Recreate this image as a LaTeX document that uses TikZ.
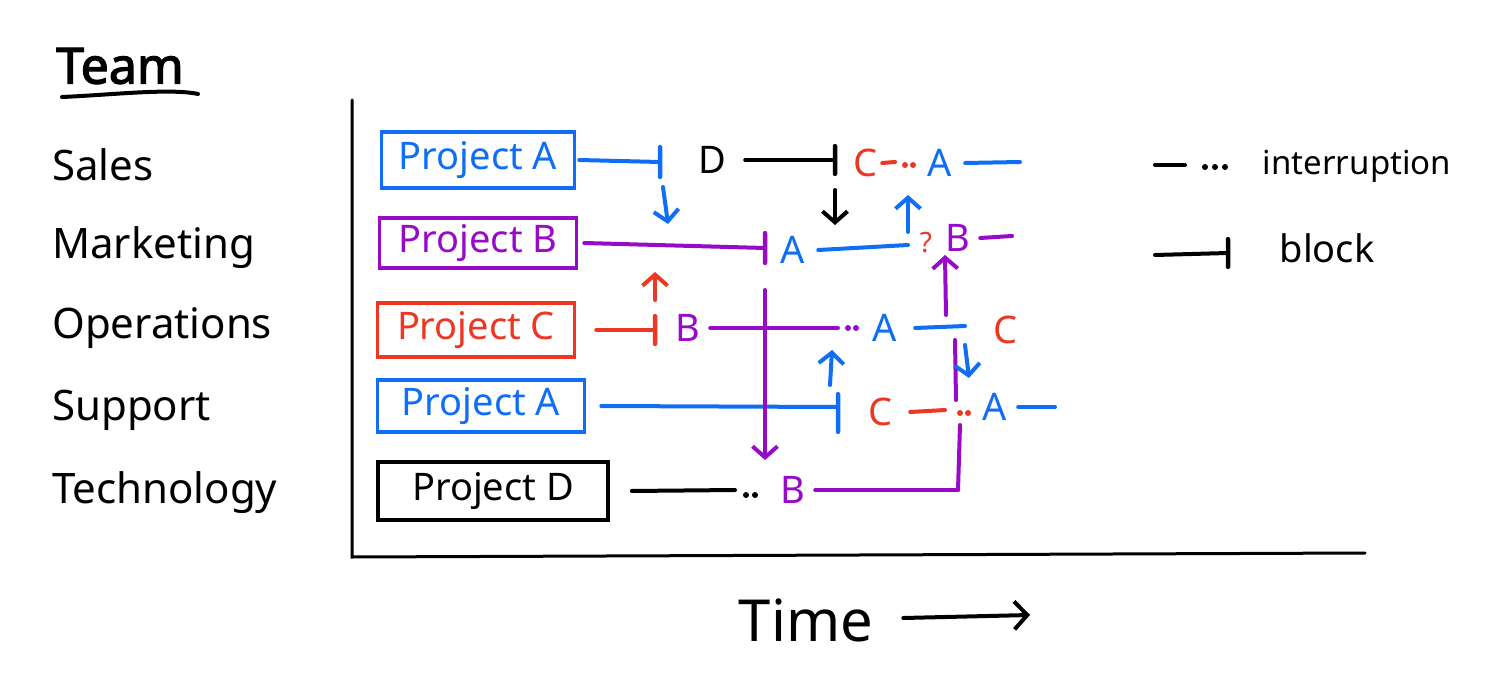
\documentclass[tikz,border=0pt]{standalone}
\usepackage{fontspec}
\setmainfont{Noto Sans}
\newfontfamily\teamfont{Noto Sans}[FakeBold=2.5]
\usetikzlibrary{arrows.meta}
\definecolor{cblue}{RGB}{15,110,245}
\definecolor{cpurple}{RGB}{150,10,200}
\definecolor{cred}{RGB}{238,55,35}
\begin{document}
\begin{tikzpicture}[x=1pt,y=-1pt,
  team/.style={anchor=west, inner sep=0pt, font=\fontsize{42}{44}\selectfont},
  proj/.style={draw, line width=3.5pt, inner sep=0pt, font=\fontsize{38}{40}\selectfont},
  lbl/.style={inner sep=0pt, minimum width=50pt, font=\fontsize{38}{40}\selectfont},
  seg/.style={line width=4pt, line cap=round},
  bar/.style={inner sep=0pt, minimum width=4.5pt, minimum height=32pt, fill, rounded corners=2pt},
  dot/.style={circle, fill, inner sep=0pt, minimum size=6pt},
  flow/.style={seg, -{Straight Barb[length=11pt,width=25pt]}},
  axis/.style={line width=3pt, line cap=round}
]
\useasboundingbox (0,0) rectangle (1486,690);

% title and team names
\node[inner sep=0pt, font=\teamfont\fontsize{50}{52}\selectfont] (team) at (120,66) {Team};
\coordinate (u1) at (62,97);
\coordinate (u2) at (198,94);
\draw[seg] (u1) .. controls (110,95) and (170,88) .. (u2);
\node[team] (sales) at (52,165) {Sales};
\node[team] (mkt) at (52,248) {Marketing};
\node[team] (ops) at (52,328) {Operations};
\node[team] (sup) at (52,410) {Support};
\node[team] (tech) at (52,493) {Technology};

% axes
\coordinate (o1) at (352,100);
\coordinate (o2) at (352,557);
\coordinate (o3) at (1365,553);
\draw[axis] (o1) -- (o2) -- (o3);
\node[inner sep=0pt, font=\fontsize{58}{60}\selectfont] (time) at (806,620) {Time};
\coordinate (t2) at (1030,615);
\draw[seg, -{Straight Barb[length=13pt,width=28pt]}] ([xshift=30pt,yshift=2pt]time.east) -- (t2);

% ---------- Row 1 : Sales
\node[proj, cblue, text=cblue, minimum width=193pt, minimum height=56pt] (p1) at (478,160) {Project A};
\node[bar, cblue, minimum height=34pt] (k1) at (660,162) {};
\node[lbl] (D1) at (712,160) {D};
\node[bar, black] (k2) at (835,160) {};
\node[lbl, text=cred] (C1) at (865,163) {C};
\coordinate (c1d) at (895,162);
\node[dot, cred] (r1a) at (905,165) {};
\node[dot, cred] (r1b) at (913,165) {};
\node[lbl, text=cblue] (A1) at (940,163) {A};
\coordinate (e1) at (1020,162);
\draw[seg, cblue] ([xshift=3pt]p1.east) -- (k1);
\draw[seg, black] ([xshift=8pt]D1.east) -- (k2);
\draw[seg, cred] ([xshift=-8pt]C1.east) -- (c1d);
\draw[seg, cblue] (A1.east) -- (e1);

% ---------- Row 2 : Marketing
\node[proj, cpurple, text=cpurple, minimum width=197pt, minimum height=50pt] (p2) at (478,243) {Project B};
\node[bar, cpurple, minimum height=34pt] (k3) at (765,248) {};
\node[lbl, text=cblue] (A2) at (793,250) {A};
\coordinate (j1) at (908,245);
\node[inner sep=0pt, text=cred, font=\fontsize{28}{28}\selectfont] (q2) at (926,243) {?};
\node[lbl, text=cpurple] (B2) at (958,238) {B};
\coordinate (e2) at (1012,236);
\draw[seg, cpurple] ([xshift=6pt]p2.east) -- (k3);
\draw[seg, cblue] (A2.east) -- (j1);
\draw[seg, cpurple] ([xshift=-3pt]B2.east) -- (e2);

% ---------- Row 3 : Operations
\node[proj, cred, text=cred, minimum width=197pt, minimum height=54pt] (p3) at (476,330) {Project C};
\node[bar, cred] (k4) at (655,330) {};
\node[lbl, text=cpurple] (B3) at (688,328) {B};
\coordinate (m3) at (838,328);
\node[dot, cpurple] (d3a) at (848,328) {};
\node[dot, cpurple] (d3b) at (856,328) {};
\node[lbl, text=cblue] (A3) at (885,328) {A};
\coordinate (e3) at (965,326);
\node[lbl, text=cred] (C3) at (1005,330) {C};
\draw[seg, cred] ([xshift=20pt]p3.east) -- (k4);
\draw[seg, cpurple] ([xshift=-3pt]B3.east) -- (m3);
\draw[seg, cblue] ([xshift=5pt]A3.east) -- (e3);

% ---------- Row 4 : Support
\node[proj, cblue, text=cblue, minimum width=207pt, minimum height=52pt] (p4) at (481,406) {Project A};
\node[bar, cblue, minimum height=42pt] (k5) at (838,413) {};
\node[lbl, text=cred] (C4) at (880,412) {C};
\coordinate (m4) at (945,410);
\node[dot, cred] (d4a) at (960,413) {};
\node[dot, cred] (d4b) at (968,413) {};
\node[lbl, text=cblue] (A4) at (995,407) {A};
\coordinate (e4) at (1055,407);
\draw[seg, cblue] ([xshift=15pt]p4.east) -- ([yshift=6pt]k5.center);
\draw[seg, cred] ([xshift=5pt]C4.east) -- (m4);
\draw[seg, cblue] ([xshift=-2pt]A4.east) -- (e4);

% ---------- Row 5 : Technology
\node[proj, black, minimum width=230pt, minimum height=58pt] (p5) at (493,491) {Project D};
\coordinate (m5) at (735,490);
\node[dot, black] (d5a) at (746,495) {};
\node[dot, black] (d5b) at (755,495) {};
\node[lbl, text=cpurple] (B5) at (793,490) {B};
\coordinate (q1) at (958,490);
\draw[seg, black] ([xshift=22pt]p5.east) -- (m5);
\draw[seg, cpurple] ([xshift=-3pt]B5.east) -- (q1);

% ---------- purple riser from Technology B to Marketing B
\coordinate (v1) at (960,425);
\coordinate (v2) at (956,400);
\coordinate (v3) at (955,340);
\coordinate (v4) at (946,315);
\coordinate (v5) at (945,255);
\draw[seg, cpurple] (q1) -- (v1);
\draw[seg, cpurple] (v2) -- (v3);
\draw[flow, cpurple] (v4) -- (v5);

% ---------- other dependency arrows
\coordinate (a1s) at (663,187);
\coordinate (a1e) at (668,224);
\draw[flow, cblue] (a1s) -- (a1e);
\coordinate (a2s) at (835,190);
\coordinate (a2e) at (835,225);
\draw[flow, black] (a2s) -- (a2e);
\draw[flow, cblue] ([yshift=13pt]j1) -- ([yshift=50pt]j1);
\coordinate (a4s) at (655,300);
\coordinate (a4e) at (655,272);
\draw[flow, cred] (a4s) -- (a4e);
\coordinate (a5s) at (765,290);
\coordinate (a5e) at (765,460);
\draw[flow, cpurple] (a5s) -- (a5e);
\coordinate (a6s) at (830,385);
\coordinate (a6e) at (832,350);
\draw[flow, cblue] (a6s) -- (a6e);
\coordinate (a7s) at (965,345);
\coordinate (a7e) at (969,378);
\draw[flow, cblue] (a7s) -- (a7e);

% ---------- legend
\coordinate (g1) at (1155,165);
\coordinate (g2) at (1185,165);
\draw[seg] (g1) -- (g2);
\node[dot] (g3) at (1205,167) {};
\node[dot] (g4) at (1215,167) {};
\node[dot] (g5) at (1225,167) {};
\node[inner sep=0pt, font=\fontsize{33}{35}\selectfont] (lint) at (1357,166) {interruption};
\coordinate (g6) at (1155,255);
\node[bar, black, minimum height=32pt] (k6) at (1228,253) {};
\draw[seg] (g6) -- (k6);
\node[inner sep=0pt, font=\fontsize{38}{40}\selectfont] (lblk) at (1327,248) {block};
\end{tikzpicture}
\end{document}
